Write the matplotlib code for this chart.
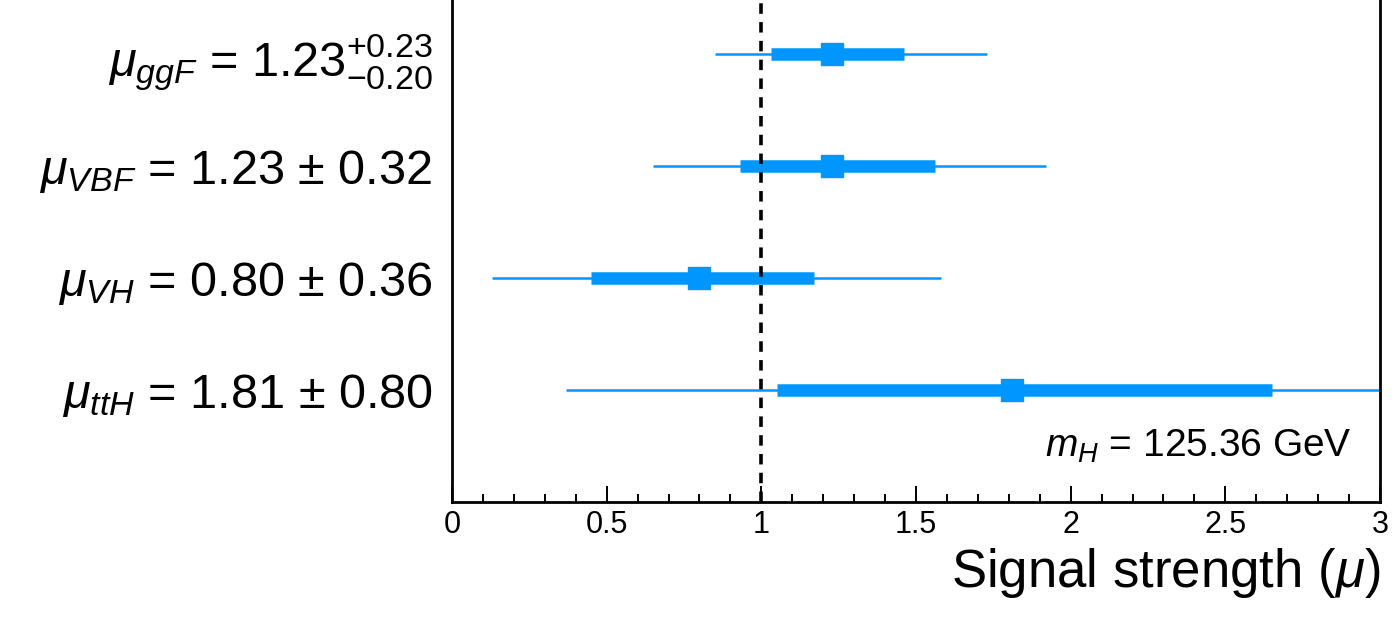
import numpy as np
import matplotlib.pyplot as plt
from matplotlib.ticker import MultipleLocator, FixedLocator

plt.rcParams['font.family'] = ['Liberation Sans', 'DejaVu Sans']
plt.rcParams['mathtext.fontset'] = 'custom'
plt.rcParams['mathtext.rm'] = 'Liberation Sans'
plt.rcParams['mathtext.it'] = 'Liberation Sans:italic'
plt.rcParams['mathtext.bf'] = 'Liberation Sans:bold'

# measurements, top to bottom
labels = [r'$\mu_{ggF}$ = 1.23$^{+0.23}_{-0.20}$',
          r'$\mu_{VBF}$ = 1.23 $\pm$ 0.32',
          r'$\mu_{VH}$ = 0.80 $\pm$ 0.36',
          r'$\mu_{ttH}$ = 1.81 $\pm$ 0.80']
central = [1.23, 1.23, 0.80, 1.81]
inner_lo = [1.03, 0.93, 0.45, 1.05]
inner_hi = [1.46, 1.56, 1.17, 2.65]
outer_lo = [0.85, 0.65, 0.13, 0.37]
outer_hi = [1.73, 1.92, 1.58, 3.30]
ypos = [4, 3, 2, 1]

xticks = [0, 0.5, 1, 1.5, 2, 2.5, 3]
xticklabels = ['0', '0.5', '1', '1.5', '2', '2.5', '3']

blue = '#0096ff'

fig = plt.figure(figsize=(14, 6.31), dpi=100)
ax = fig.add_axes([452/1400, 1 - 502/631, 928/1400, 502/631])

for i in range(len(central)):
    y = ypos[i]
    ax.plot([outer_lo[i], outer_hi[i]], [y, y], color=blue, lw=1.8,
            solid_capstyle='butt', zorder=2)
    ax.plot([inner_lo[i], inner_hi[i]], [y, y], color=blue, lw=9,
            solid_capstyle='butt', zorder=3)
    ax.plot(central[i], y, marker='s', ms=16.5, color=blue, mec=blue,
            zorder=4)

ax.axvline(1.0, color='black', lw=2.6, dashes=(2.9, 2.3), zorder=5)

ax.set_xlim(0, 3)
ax.set_ylim(0, 4.48)

ax.xaxis.set_major_locator(FixedLocator(xticks))
ax.set_xticklabels(xticklabels)
ax.xaxis.set_minor_locator(MultipleLocator(0.1))
ax.tick_params(axis='x', which='major', direction='in', length=11.5,
               width=1.4, labelsize=22, pad=6)
ax.tick_params(axis='x', which='minor', direction='in', length=5.8,
               width=1.4)

ax.set_yticks(ypos)
ax.set_yticklabels(labels)
ax.tick_params(axis='y', length=0, labelsize=35, pad=14)

ax.spines['top'].set_visible(False)
for s in ['left', 'right', 'bottom']:
    ax.spines[s].set_linewidth(2)

ax.set_xlabel(r'Signal strength ($\mu$)', fontsize=38, loc='right',
              labelpad=4)

ax.text(0.97, 0.11, r'$m_H$ = 125.36 GeV', transform=ax.transAxes,
        ha='right', va='center', fontsize=28)

fig.savefig('out.png', dpi=100)
